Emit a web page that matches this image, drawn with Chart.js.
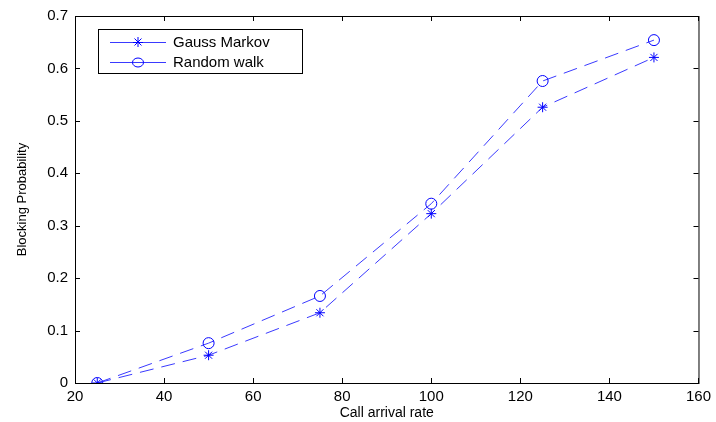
<!DOCTYPE html>
<html>
<head>
<meta charset="utf-8">
<script src="https://cdn.jsdelivr.net/npm/chart.js@4"></script>
<style>
  html, body { margin: 0; padding: 0; background: #fff; }
  #wrap { width: 716px; height: 422px; }
</style>
</head>
<body>
<div id="wrap"><canvas id="chart"></canvas></div>
<script>
const callRates = [25, 50, 75, 100, 125, 150];
const gaussMarkov = [0.0, 0.053, 0.134, 0.323, 0.526, 0.621];
const randomWalk = [0.0, 0.076, 0.166, 0.342, 0.576, 0.654];
const seriesLabels = ['Gauss Markov', 'Random walk'];

const lineColor = '#3a3aff';
const markColor = '#0000ff';
const fontFamily = '"Liberation Sans", Arial, sans-serif';

// frame + inward ticks on all four sides, like matlab
const boxPlugin = {
    id: 'box',
    afterDraw(chart) {
        const ctx = chart.ctx;
        const a = chart.chartArea;
        const xs = chart.scales.x;
        const ys = chart.scales.y;
        ctx.save();
        ctx.strokeStyle = '#000';
        ctx.lineWidth = 1;
        ctx.strokeRect(a.left + 0.5, a.top + 0.5, a.right - a.left, a.bottom - a.top);
        ctx.beginPath();
        xs.ticks.forEach(t => {
            const px = Math.round(xs.getPixelForValue(t.value)) + 0.5;
            ctx.moveTo(px, a.bottom); ctx.lineTo(px, a.bottom - 5);
            ctx.moveTo(px, a.top); ctx.lineTo(px, a.top + 5);
        });
        ys.ticks.forEach(t => {
            const py = Math.round(ys.getPixelForValue(t.value)) + 0.5;
            ctx.moveTo(a.left, py); ctx.lineTo(a.left + 5, py);
            ctx.moveTo(a.right, py); ctx.lineTo(a.right - 5, py);
        });
        ctx.stroke();

        // legend box
        const lx = 98, ly = 29, lw = 204, lh = 44;
        ctx.fillStyle = '#fff';
        ctx.fillRect(lx, ly, lw, lh);
        ctx.strokeRect(lx + 0.5, ly + 0.5, lw, lh);
        ctx.font = '15px ' + fontFamily;
        ctx.textBaseline = 'middle';
        chart.data.datasets.forEach((ds, i) => {
            const y = ly + 13 + i * 20;
            ctx.strokeStyle = lineColor;
            ctx.beginPath();
            ctx.moveTo(110, y + 0.5); ctx.lineTo(166, y + 0.5);
            ctx.stroke();
            ctx.strokeStyle = markColor;
            ctx.beginPath();
            if (ds.pointStyle === 'circle') {
                ctx.ellipse(138, y + 0.5, 5.5, 4.5, 0, 0, Math.PI * 2);
            } else {
                const r = 5;
                ctx.moveTo(138 - r, y + 0.5); ctx.lineTo(138 + r, y + 0.5);
                ctx.moveTo(138, y - r); ctx.lineTo(138, y + r);
                ctx.moveTo(138 - 3.5, y - 3.5); ctx.lineTo(138 + 3.5, y + 3.5);
                ctx.moveTo(138 - 3.5, y + 3.5); ctx.lineTo(138 + 3.5, y - 3.5);
            }
            ctx.stroke();
            ctx.fillStyle = '#000';
            ctx.fillText(ds.label, 173, y + 1);
        });
        ctx.restore();
    }
};

new Chart(document.getElementById('chart'), {
    type: 'line',
    data: {
        datasets: [
            {
                label: seriesLabels[0],
                data: callRates.map((x, i) => ({ x: x, y: gaussMarkov[i] })),
                borderColor: lineColor,
                borderWidth: 1,
                borderDash: [14, 8],
                pointStyle: 'star',
                pointRadius: 5,
                pointBorderColor: markColor,
                pointBorderWidth: 1,
                pointBackgroundColor: markColor,
                tension: 0
            },
            {
                label: seriesLabels[1],
                data: callRates.map((x, i) => ({ x: x, y: randomWalk[i] })),
                borderColor: lineColor,
                borderWidth: 1,
                borderDash: [14, 8],
                pointStyle: 'circle',
                pointRadius: 5.5,
                pointBorderColor: markColor,
                pointBorderWidth: 1,
                pointBackgroundColor: 'rgba(0,0,0,0)',
                tension: 0
            }
        ]
    },
    options: {
        responsive: true,
        maintainAspectRatio: false,
        animation: false,
        devicePixelRatio: 1,
        layout: { padding: { top: 15, right: 13, left: 0, bottom: 0 } },
        plugins: {
            legend: { display: false },
            tooltip: { enabled: false }
        },
        scales: {
            x: {
                type: 'linear',
                min: 20,
                max: 160,
                ticks: {
                    stepSize: 20,
                    color: '#000',
                    padding: 5,
                    font: { family: fontFamily, size: 15 }
                },
                grid: { display: false, drawTicks: false },
                border: { display: false },
                title: {
                    display: true,
                    text: 'Call arrival rate',
                    color: '#000',
                    padding: { top: 1, bottom: 0 },
                    font: { family: fontFamily, size: 14 }
                },
                afterFit(scale) { scale.height = 39; }
            },
            y: {
                min: 0,
                max: 0.7,
                ticks: {
                    stepSize: 0.1,
                    color: '#000',
                    padding: 7,
                    font: { family: fontFamily, size: 15 },
                    callback: v => (v === 0 ? '0' : v.toFixed(1))
                },
                grid: { display: false, drawTicks: false },
                border: { display: false },
                title: {
                    display: true,
                    text: 'Blocking Probability',
                    color: '#000',
                    padding: { top: 15, bottom: 0 },
                    font: { family: fontFamily, size: 13 }
                },
                afterFit(scale) { scale.width = 75; }
            }
        }
    },
    plugins: [boxPlugin]
});
</script>
</body>
</html>
